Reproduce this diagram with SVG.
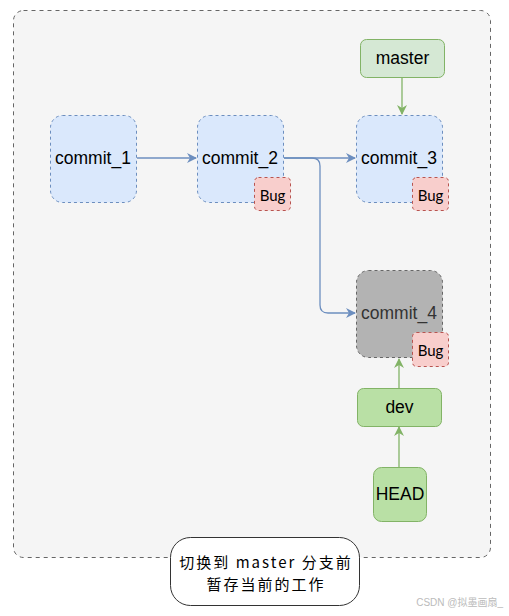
<svg xmlns="http://www.w3.org/2000/svg" width="509" height="616" viewBox="0 0 509 616">
<style>
.commit{fill:#dae8fc;stroke:#6c8ebf;stroke-width:1;stroke-dasharray:3 3}
.bug{fill:#f8cecc;stroke:#b85450;stroke-width:1;stroke-dasharray:3 3}
.ref{fill:#d5e8d4;stroke:#82b366;stroke-width:1}
.ref2{fill:#b9e0a5;stroke:#82b366;stroke-width:1}
.t{font-family:"Liberation Sans",Arial,sans-serif;font-size:17.5px;fill:#000;text-anchor:middle;dominant-baseline:central}
.b{font-family:Lato,"Noto Sans",sans-serif;font-size:15px;fill:#000;text-anchor:middle;dominant-baseline:central}
.cn{font-family:"Noto Sans CJK SC",sans-serif;font-size:15px;letter-spacing:2px;fill:#000;text-anchor:middle;dominant-baseline:central}
.blue{fill:none;stroke:#6c8ebf;stroke-width:1.3}
.green{fill:none;stroke:#82b366;stroke-width:1.3}
</style>
<defs>
<marker id="ab" viewBox="0 0 10 10" refX="9" refY="5" markerWidth="10" markerHeight="10" markerUnits="userSpaceOnUse" orient="auto"><path d="M0,0 L10,5 L0,10 L3,5 Z" fill="#6c8ebf"/></marker>
<marker id="ag" viewBox="0 0 10 10" refX="9" refY="5" markerWidth="10" markerHeight="10" markerUnits="userSpaceOnUse" orient="auto"><path d="M0,0 L10,5 L0,10 L3,5 Z" fill="#82b366"/></marker>
</defs>
<rect width="509" height="616" fill="#fff"/>
<g id="container"><rect x="13.5" y="10.5" width="477" height="547" rx="10" fill="#f5f5f5" stroke="#666" stroke-width="1" stroke-dasharray="4 4"/></g>
<g id="connectors">
<path class="blue" d="M137,158 H196" marker-end="url(#ab)"/>
<path class="blue" d="M284,158 H355" marker-end="url(#ab)"/>
<path class="blue" d="M284,158 H312 Q320,158 320,166 V305 Q320,313 328,313 H355" marker-end="url(#ab)"/>
<path class="green" d="M402,77 V114" marker-end="url(#ag)"/>
<path class="green" d="M399,388 V359" marker-end="url(#ag)"/>
<path class="green" d="M399,467 V427" marker-end="url(#ag)"/>
</g>
<g id="commit_1"><rect class="commit" x="50.5" y="115.5" width="86" height="87" rx="12"/><text class="t" x="93" y="158">commit_1</text></g>
<g id="commit_2"><rect class="commit" x="197.5" y="115.5" width="86" height="87" rx="12"/><text class="t" x="240" y="158">commit_2</text></g>
<g id="bug_2"><rect class="bug" x="254.5" y="177.5" width="36" height="33" rx="4"/><text class="b" x="272.5" y="195">Bug</text></g>
<g id="commit_3"><rect class="commit" x="356.5" y="115.5" width="86" height="87" rx="12"/><text class="t" x="399" y="158">commit_3</text></g>
<g id="bug_3"><rect class="bug" x="412.5" y="177.5" width="36" height="33" rx="4"/><text class="b" x="430.5" y="195">Bug</text></g>
<g id="commit_4"><rect x="356.5" y="270.5" width="86" height="87" rx="12" fill="#b3b3b3" stroke="#666" stroke-width="1" stroke-dasharray="3 3"/><text class="t" x="399" y="313" style="fill:#333">commit_4</text></g>
<g id="bug_4"><rect class="bug" x="412.5" y="332.5" width="36" height="34" rx="4"/><text class="b" x="430.5" y="350">Bug</text></g>
<g id="master"><rect class="ref" x="360.5" y="39.5" width="84" height="38" rx="6"/><text class="t" x="402.5" y="58">master</text></g>
<g id="dev"><rect class="ref2" x="357.5" y="388.5" width="84" height="38" rx="6"/><text class="t" x="399.5" y="407">dev</text></g>
<g id="HEAD"><rect class="ref2" x="373.5" y="467.5" width="53" height="54" rx="8"/><text class="t" x="400" y="494">HEAD</text></g>
<g id="note"><rect x="170.5" y="537.5" width="189" height="68" rx="20" fill="#fff" stroke="#333" stroke-width="1"/>
<text class="cn" x="266" y="561">切换到 master 分支前</text>
<text class="cn" x="266" y="583">暂存当前的工作</text></g>
<text x="503" y="606" font-family="'Liberation Sans','Noto Sans CJK SC',sans-serif" font-size="10" fill="#bbb" text-anchor="end">CSDN @拟墨画扇_</text>
</svg>
